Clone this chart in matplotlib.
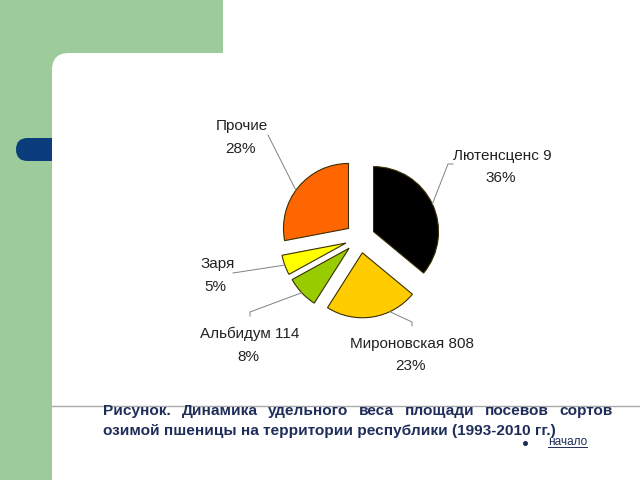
import matplotlib
matplotlib.use('Agg')
import matplotlib.pyplot as plt
from matplotlib.patches import Rectangle, FancyBboxPatch
import numpy as np

# ---- data ----
varieties = ['Лютенсценс 9', 'Мироновская 808', 'Альбидум 114', 'Заря', 'Прочие']
shares = [36, 23, 8, 5, 28]
colors = ['#000000', '#FFCC00', '#99CC00', '#FFFF00', '#FF6600']
caption1 = 'Рисунок. Динамика удельного веса площади посевов сортов'
caption2 = 'озимой пшеницы на территории республики (1993-2010 гг.)'
link_text = 'начало'

W, H = 640, 480
GREEN = '#9DCB9B'
NAVY = '#1F2D5A'
FONT = ['Liberation Sans', 'DejaVu Sans']

fig = plt.figure(figsize=(6.4, 4.8), dpi=100)
fig.patch.set_facecolor('white')

# ---- background slide decoration (pixel coordinates, y down) ----
bg = fig.add_axes([0, 0, 1, 1])
bg.set_xlim(0, W)
bg.set_ylim(H, 0)
bg.axis('off')
bg.add_patch(Rectangle((0, 0), 223, 90, facecolor=GREEN, edgecolor='none', zorder=1))
bg.add_patch(Rectangle((0, 0), 52, H, facecolor=GREEN, edgecolor='none', zorder=1))
bg.add_patch(FancyBboxPatch((16, 138), 80, 23, boxstyle='round,pad=0,rounding_size=11.5',
                            facecolor='#0B3D7C', edgecolor='none', zorder=2))
bg.add_patch(FancyBboxPatch((52, 53), 700, 600, boxstyle='round,pad=0,rounding_size=17',
                            facecolor='white', edgecolor='none', zorder=3))
bg.plot([52, W], [406, 406], color='#AAAAAA', lw=1, zorder=4)

# ---- pie ----
CX, CY, UNIT = 360, 238, 65  # pixel centre and pixels per radius unit
pax = fig.add_axes([(CX - 2 * UNIT) / W, (H - CY - 2 * UNIT) / H, 4 * UNIT / W, 4 * UNIT / H])
wedges, _ = pax.pie(shares, colors=colors, startangle=90, counterclock=False,
                    explode=[0.23] * len(shares), radius=1,
                    wedgeprops=dict(edgecolor='#3A2E00', linewidth=0.8))
pax.set_xlim(-2, 2)
pax.set_ylim(-2, 2)
pax.set_aspect('auto')
pax.axis('off')


def px2u(px, py):
    return ((px - CX) / UNIT, (CY - py) / UNIT)


# label layout (pixel positions of name line, percent line) and leader paths
name_pos = [(502, 156), (412, 344), (250, 334), (218, 264), (242, 126)]
pct_pos = [(501, 178), (410, 366), (248, 357), (215, 287), (240, 149)]
anchor_override = [None, -65, None, None, 144]
leader_pts = [[(448, 164), (453, 164)],
              [(412, 322), (412, 326)],
              [(250, 312), (250, 316)],
              [(233, 273)],
              [(268, 135)]]

for i, w in enumerate(wedges):
    cx, cy = w.center
    ang = anchor_override[i]
    if ang is None:
        ang = 0.5 * (w.theta1 + w.theta2)
    a = np.deg2rad(ang)
    start = (cx + w.r * np.cos(a), cy + w.r * np.sin(a))
    pts = [start] + [px2u(*p) for p in leader_pts[i]]
    xs, ys = zip(*pts)
    pax.plot(xs, ys, color='#808080', lw=0.7, clip_on=False, zorder=5)
    nx, ny = px2u(*name_pos[i])
    pax.text(nx, ny, varieties[i], ha='center', va='center', fontsize=11,
             family=FONT, color='#222222', clip_on=False)
    qx, qy = px2u(*pct_pos[i])
    pax.text(qx, qy, f'{shares[i]}%', ha='center', va='center', fontsize=11,
             family=FONT, color='#222222', clip_on=False)

# ---- caption (first line justified) ----
renderer = fig.canvas.get_renderer()
CAP_FS = 11.1
words = caption1.split(' ')
objs = [bg.text(0, 415, wd, ha='left', va='baseline', fontsize=CAP_FS, fontweight='bold',
                family=FONT, color=NAVY, zorder=6) for wd in words]
widths = [o.get_window_extent(renderer).width for o in objs]
left, right = 103, 613
gap = (right - left - sum(widths)) / (len(words) - 1)
x = left
for o, wdt in zip(objs, widths):
    o.set_x(x)
    x += wdt + gap
bg.text(left, 435, caption2, ha='left', va='baseline', fontsize=CAP_FS, fontweight='bold',
        family=FONT, color=NAVY, zorder=6)

# ---- link ----
bg.plot([525], [443], 'o', ms=2.6, color=NAVY, zorder=6)
lt = bg.text(548, 445, link_text, ha='left', va='baseline', fontsize=8.5, family=FONT,
             color=NAVY, zorder=6)
lw_ = lt.get_window_extent(renderer).width
bg.plot([548, 548 + lw_], [447, 447], color=NAVY, lw=0.7, zorder=6)

fig.savefig('out.png', dpi=100, facecolor='white')
